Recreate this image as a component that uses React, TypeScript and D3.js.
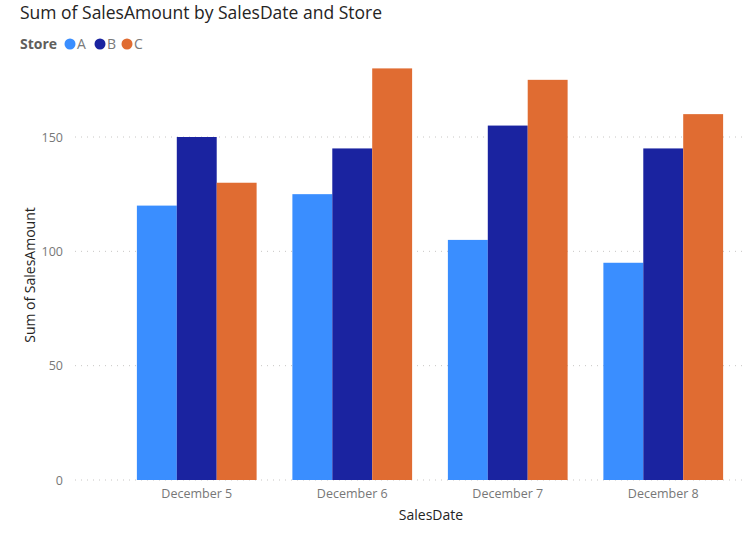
import React, { useEffect, useRef } from "react";
import * as d3 from "d3";

const dates = ["December 5", "December 6", "December 7", "December 8"];
const stores = ["A", "B", "C"];
const storeA = [120, 125, 105, 95];
const storeB = [150, 145, 155, 145];
const storeC = [130, 180, 175, 160];
const yTicks = [0, 50, 100, 150];
const colors = ["#3a8eff", "#1a23a0", "#e06c32"];

export default function App() {
  const ref = useRef<SVGSVGElement>(null);

  useEffect(() => {
    const svg = d3.select(ref.current);
    svg.selectAll("*").remove();

    const width = 748;
    const height = 535;
    const font = "'Segoe UI', 'Open Sans', 'Noto Sans', sans-serif";
    const series = [storeA, storeB, storeC];

    svg.append("rect").attr("width", width).attr("height", height).attr("fill", "#fff");

    // title
    svg
      .append("text")
      .attr("x", 20)
      .attr("y", 19)
      .attr("font-family", font)
      .attr("font-size", 17.5)
      .attr("fill", "#252423")
      .text("Sum of SalesAmount by SalesDate and Store");

    // legend
    const legend = svg.append("g").attr("font-family", font).attr("font-size", 14);
    legend
      .append("text")
      .attr("x", 20)
      .attr("y", 49)
      .attr("font-weight", "bold")
      .attr("fill", "#605e5c")
      .text("Store");
    const lx = [70, 100, 127];
    stores.forEach((s, i) => {
      legend.append("circle").attr("cx", lx[i]).attr("cy", 44).attr("r", 5.5).attr("fill", colors[i]);
      legend
        .append("text")
        .attr("x", lx[i] + 7)
        .attr("y", 49)
        .attr("fill", "#7a7a7a")
        .text(s);
    });

    const x0 = d3.scaleBand().domain(dates).range([119, 741]).paddingInner(0.23).paddingOuter(0.115);
    const x1 = d3.scaleBand().domain(stores).range([0, x0.bandwidth()]).padding(0);
    const y = d3.scaleLinear().domain([0, 150]).range([480, 137]);

    // gridlines
    svg
      .append("g")
      .selectAll("line")
      .data(yTicks)
      .enter()
      .append("line")
      .attr("x1", 75)
      .attr("x2", 742)
      .attr("y1", (d) => y(d))
      .attr("y2", (d) => y(d))
      .attr("stroke", "#c8c6c4")
      .attr("stroke-width", 1)
      .attr("stroke-dasharray", "1 5");

    // y tick labels
    svg
      .append("g")
      .selectAll("text")
      .data(yTicks)
      .enter()
      .append("text")
      .attr("x", 63)
      .attr("y", (d) => y(d) + 4.5)
      .attr("text-anchor", "end")
      .attr("font-family", font)
      .attr("font-size", 12.5)
      .attr("fill", "#777")
      .text((d) => d);

    // bars
    dates.forEach((dt, di) => {
      stores.forEach((s, si) => {
        const v = series[si][di];
        svg
          .append("rect")
          .attr("x", (x0(dt) ?? 0) + (x1(s) ?? 0))
          .attr("y", y(v))
          .attr("width", x1.bandwidth())
          .attr("height", y(0) - y(v))
          .attr("fill", colors[si]);
      });
    });

    // x tick labels
    svg
      .append("g")
      .selectAll("text")
      .data(dates)
      .enter()
      .append("text")
      .attr("x", (d) => (x0(d) ?? 0) + x0.bandwidth() / 2)
      .attr("y", 498)
      .attr("text-anchor", "middle")
      .attr("font-family", font)
      .attr("font-size", 12.5)
      .attr("fill", "#777")
      .text((d) => d);

    // axis titles
    svg
      .append("text")
      .attr("x", 431)
      .attr("y", 520)
      .attr("text-anchor", "middle")
      .attr("font-family", font)
      .attr("font-size", 14)
      .attr("fill", "#252423")
      .text("SalesDate");

    svg
      .append("text")
      .attr("transform", "translate(35, 275) rotate(-90)")
      .attr("text-anchor", "middle")
      .attr("font-family", font)
      .attr("font-size", 14)
      .attr("fill", "#252423")
      .text("Sum of SalesAmount");
  }, []);

  return (
    <svg
      ref={ref}
      width={748}
      height={535}
      style={{ position: "absolute", left: 0, top: 0, display: "block" }}
    />
  );
}
